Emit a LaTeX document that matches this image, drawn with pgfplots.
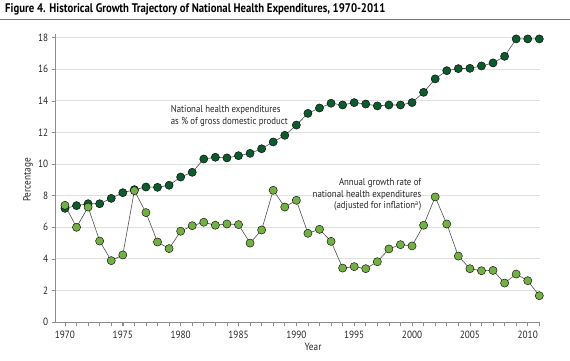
\documentclass[border=0pt]{standalone}
\usepackage{fontspec}
\setmainfont{PT Sans}
\newfontfamily\condfont[FakeStretch=0.88]{PT Sans}
\newfontfamily\titlefont[FakeStretch=0.86]{PT Sans}
\usepackage{pgfplots}
\pgfplotsset{compat=1.18}
\usepackage{pgfplotstable}
\definecolor{dkgreen}{HTML}{0D5A2C}
\definecolor{ltgreen}{HTML}{72B043}
\definecolor{lncol}{HTML}{505050}
\pgfplotstableread{
year gdp
1970 7.20
1971 7.37
1972 7.49
1973 7.49
1974 7.83
1975 8.19
1976 8.38
1977 8.55
1978 8.53
1979 8.66
1980 9.18
1981 9.48
1982 10.32
1983 10.43
1984 10.39
1985 10.53
1986 10.68
1987 10.97
1988 11.40
1989 11.82
1990 12.47
1991 13.21
1992 13.55
1993 13.85
1994 13.74
1995 13.89
1996 13.80
1997 13.68
1998 13.74
1999 13.74
2000 13.89
2001 14.54
2002 15.39
2003 15.91
2004 16.04
2005 16.06
2006 16.21
2007 16.40
2008 16.82
2009 17.92
2010 17.92
2011 17.92
}\gdptable
\pgfplotstableread{
year rate
1970 7.39
1971 6.00
1972 7.28
1973 5.13
1974 3.89
1975 4.25
1976 8.32
1977 6.93
1978 5.07
1979 4.65
1980 5.75
1981 6.10
1982 6.32
1983 6.13
1984 6.21
1985 6.17
1986 5.00
1987 5.83
1988 8.34
1989 7.28
1990 7.71
1991 5.62
1992 5.87
1993 5.11
1994 3.42
1995 3.51
1996 3.38
1997 3.82
1998 4.63
1999 4.90
2000 4.82
2001 6.13
2002 7.92
2003 6.21
2004 4.18
2005 3.38
2006 3.25
2007 3.27
2008 2.47
2009 3.04
2010 2.62
2011 1.67
}\ratetable
\begin{document}
\begin{tikzpicture}
\begin{axis}[
  scale only axis,
  width=484.3pt, height=287.6pt,
  xmin=1969.2, xmax=2011.06,
  ymin=0, ymax=18.2,
  clip=false,
  axis lines=left,
  axis line style={-, draw=black!45, line width=0.8pt},
  xtick={1970,1975,...,2010},
  minor xtick={1970,...,2011},
  ytick={0,2,...,18},
  xticklabel style={/pgf/number format/1000 sep={}},
  /pgf/number format/assume math mode=true,
  tick align=outside,
  major tick length=4pt, minor tick length=4pt,
  tick style={draw=black!45, line width=0.6pt},
  ymajorgrids,
  grid style={draw=black!12, line width=0.9pt},
  ticklabel style={font=\condfont\fontsize{10.5}{12}\selectfont, text=black!85},
  xticklabel style={yshift=-1pt},
]
\addplot[lncol, line width=0.6pt, no marks] table[x=year,y=gdp]{\gdptable};
\addplot[lncol, line width=0.6pt, no marks] table[x=year,y=rate]{\ratetable};
\addplot[only marks, mark=*, mark size=4.1pt, mark options={draw=none, fill=dkgreen}] table[x=year,y=gdp]{\gdptable};
\addplot[only marks, mark=*, mark size=4.1pt, mark options={draw=none, fill=ltgreen}] table[x=year,y=rate]{\ratetable};
\node[anchor=west, align=left, font=\condfont\fontsize{10}{11.5}\selectfont, text=black!85] at (axis cs:1978.85,13.05) {National health expenditures\\as \% of gross domestic product};
\node[anchor=east, align=right, font=\condfont\fontsize{10}{11.5}\selectfont, text=black!85] at (axis cs:2001.1,8.06) {Annual growth rate of\\national health expenditures\\(adjusted for inflation\textsuperscript{a})};
\end{axis}
\useasboundingbox (-55.7pt,-38.9pt) rectangle (514.3pt,322.1pt);
\draw[black!55, line width=0.8pt] (-55.7pt,302.6pt) -- (514.3pt,302.6pt);
\node[anchor=base west, inner sep=0pt, font=\titlefont\fontsize{12.5}{14}\selectfont\bfseries] at (-50.7pt,309.6pt) {Figure 4. Historical Growth Trajectory of National Health Expenditures, 1970-2011};
\node[rotate=90, font=\condfont\fontsize{10.5}{12}\selectfont, text=black!85] at (-27.7pt,142.1pt) {Percentage};
\node[font=\condfont\fontsize{10.5}{12}\selectfont, text=black!85] at (257.3pt,-24.9pt) {Year};
\end{tikzpicture}
\end{document}
